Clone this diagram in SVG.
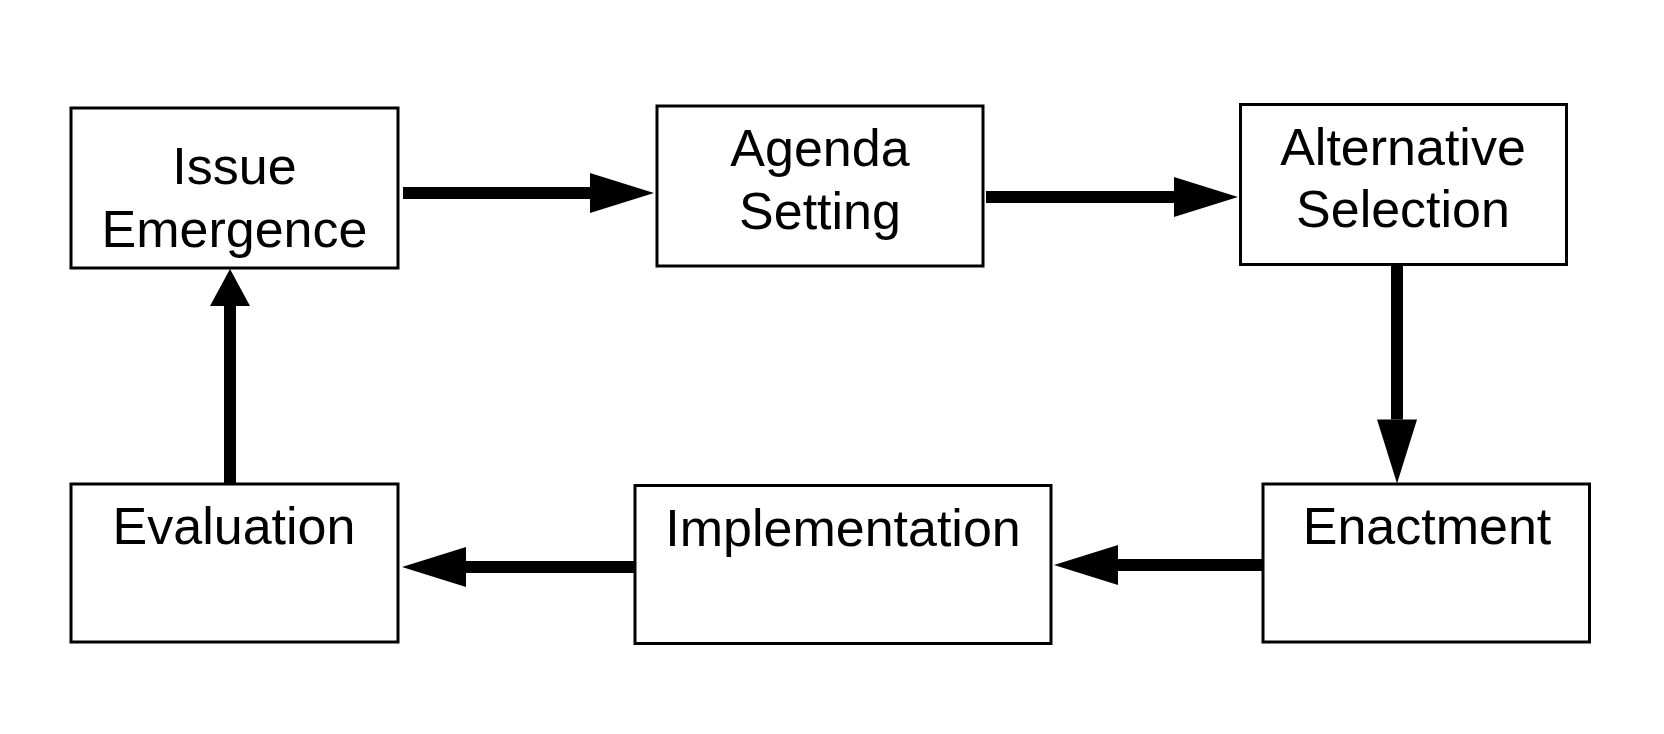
<svg xmlns="http://www.w3.org/2000/svg" width="1664" height="734" viewBox="0 0 1664 734">
<style>
.box{fill:#fff;stroke:#000;stroke-width:3}
.lbl{font-family:"Liberation Sans",Arial,sans-serif;font-size:52px;fill:#000;text-anchor:middle}
.conn{stroke:#000;stroke-width:12;fill:none;marker-end:url(#head)}
.conn.short{marker-end:url(#head-short)}
</style>
<defs>
<marker id="head" markerUnits="userSpaceOnUse" markerWidth="64" markerHeight="40" refX="0" refY="20" orient="auto" overflow="visible">
<path d="M0,0 L64,20 L0,40 z" fill="#000"/>
</marker>
<marker id="head-short" markerUnits="userSpaceOnUse" markerWidth="37" markerHeight="40" refX="0" refY="20" orient="auto" overflow="visible">
<path d="M0,0 L37,20 L0,40 z" fill="#000"/>
</marker>
</defs>
<rect width="1664" height="734" fill="#fff"/>
<g id="node-issue">
<rect class="box" x="71" y="108" width="327" height="160"/>
<text class="lbl" x="234.5" y="184">Issue</text>
<text class="lbl" x="234.5" y="246.5">Emergence</text>
</g>
<g id="node-agenda">
<rect class="box" x="657" y="106" width="326" height="160"/>
<text class="lbl" x="820" y="166">Agenda</text>
<text class="lbl" x="820" y="228.5">Setting</text>
</g>
<g id="node-alternative">
<rect class="box" x="1240.5" y="104.5" width="326" height="160"/>
<text class="lbl" x="1403" y="164.5">Alternative</text>
<text class="lbl" x="1403" y="226.5">Selection</text>
</g>
<g id="node-enactment">
<rect class="box" x="1263" y="484" width="326.5" height="158"/>
<text class="lbl" x="1427" y="543.5">Enactment</text>
</g>
<g id="node-implementation">
<rect class="box" x="635" y="485.5" width="416" height="158"/>
<text class="lbl" x="843" y="546">Implementation</text>
</g>
<g id="node-evaluation">
<rect class="box" x="71" y="484" width="327" height="158"/>
<text class="lbl" x="234" y="544">Evaluation</text>
</g>
<g id="connectors">
<line class="conn" x1="403" y1="193" x2="590" y2="193"/>
<line class="conn" x1="986" y1="197" x2="1174" y2="197"/>
<line class="conn" x1="1397" y1="266" x2="1397" y2="419.5"/>
<line class="conn" x1="1263" y1="565" x2="1118" y2="565"/>
<line class="conn" x1="635" y1="567" x2="466" y2="567"/>
<line class="conn short" x1="230" y1="484" x2="230" y2="306"/>
</g>
</svg>
